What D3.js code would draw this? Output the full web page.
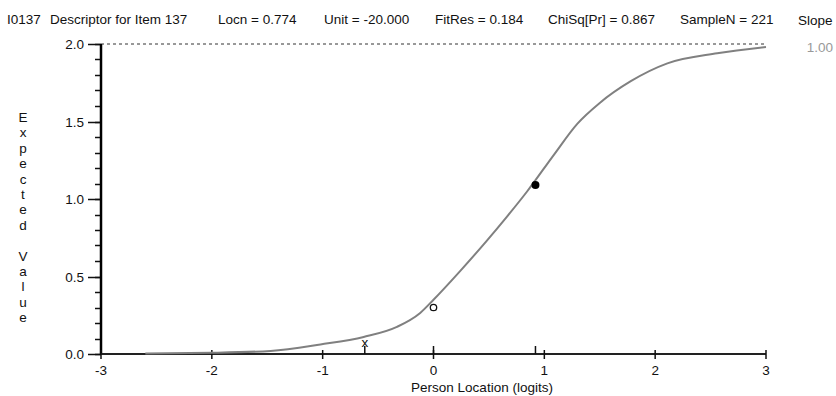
<!DOCTYPE html>
<html>
<head>
<meta charset="utf-8">
<script src="https://cdn.jsdelivr.net/npm/d3@7"></script>
<style>
  body { margin: 0; background: #fff; }
  text { font-family: "Liberation Sans", Arial, sans-serif; }
</style>
</head>
<body>
<div id="chart"></div>
<script>
// header fields
var headerLabels = ["I0137", "Descriptor for Item 137", "Locn = 0.774", "Unit = -20.000", "FitRes = 0.184", "ChiSq[Pr] = 0.867", "SampleN = 221"];
var headerX = [7, 50, 218, 324, 435, 548, 680];

// expected value curve
var curveX = [-2.6, -2.0, -1.47, -1.02, -0.63, -0.33, -0.12, 0, 0.24, 0.48, 0.665, 0.846, 1.086, 1.297, 1.5, 1.78, 2.11, 2.56, 3.0];
var curveY = [0.004, 0.008, 0.02, 0.062, 0.11, 0.175, 0.265, 0.35, 0.535, 0.73, 0.888, 1.05, 1.285, 1.485, 1.62, 1.76, 1.875, 1.94, 1.98];

// observed class interval means
var classX = [-0.62, 0, 0.92];
var classY = [0.07, 0.30, 1.09];
var classMark = ["x", "o", "dot"];

var xTicks = [-3, -2, -1, 0, 1, 2, 3];
var yTicks = [0, 0.5, 1.0, 1.5, 2.0];
var yLabel = "Expected Value";

var width = 836, height = 396;
var fs = 13.5;
var svg = d3.select("#chart").append("svg")
    .attr("width", width)
    .attr("height", height);

var x = d3.scaleLinear().domain([-3, 3]).range([101, 766]);
var y = d3.scaleLinear().domain([0, 2]).range([354, 44]);

// header line
svg.selectAll("text.head")
    .data(headerLabels)
    .enter().append("text")
    .attr("class", "head")
    .attr("x", function(d, i) { return headerX[i]; })
    .attr("y", 24)
    .attr("font-size", fs)
    .attr("fill", "#111")
    .text(function(d) { return d; });

svg.append("text").attr("x", 798).attr("y", 25).attr("font-size", fs).attr("fill", "#111").text("Slope");
svg.append("text").attr("x", 833).attr("y", 52).attr("font-size", fs).attr("fill", "#999")
    .attr("text-anchor", "end").text("1.00");

// dashed maximum line
svg.append("line")
    .attr("x1", x(-3)).attr("x2", x(3))
    .attr("y1", y(2)).attr("y2", y(2))
    .attr("stroke", "#333").attr("stroke-width", 1)
    .attr("stroke-dasharray", "3,3");

// y axis: minor ticks every 0.1
var yMinor = d3.range(0, 2.01, 0.1);
svg.selectAll("line.yminor")
    .data(yMinor)
    .enter().append("line")
    .attr("x1", 95).attr("x2", x(-3))
    .attr("y1", function(d) { return Math.round(y(d)) + 0.5; })
    .attr("y2", function(d) { return Math.round(y(d)) + 0.5; })
    .attr("stroke", "#111").attr("stroke-width", 1.5);

svg.selectAll("line.ymajor")
    .data(yTicks)
    .enter().append("line")
    .attr("x1", 88).attr("x2", x(-3))
    .attr("y1", function(d) { return Math.round(y(d)) + 0.5; })
    .attr("y2", function(d) { return Math.round(y(d)) + 0.5; })
    .attr("stroke", "#111").attr("stroke-width", 1.5);

svg.selectAll("text.ytick")
    .data(yTicks)
    .enter().append("text")
    .attr("x", 84)
    .attr("y", function(d) { return y(d) + 5; })
    .attr("text-anchor", "end")
    .attr("font-size", fs)
    .attr("fill", "#111")
    .text(function(d) { return d.toFixed(1); });

svg.append("line")
    .attr("x1", x(-3)).attr("x2", x(-3))
    .attr("y1", y(2)).attr("y2", y(0) + 1)
    .attr("stroke", "#000").attr("stroke-width", 2.5);

// vertical y label, one letter per row
svg.selectAll("text.ylab")
    .data(yLabel.split(""))
    .enter().append("text")
    .attr("x", 23)
    .attr("y", function(d, i) { return 122 + i * 15.4; })
    .attr("text-anchor", "middle")
    .attr("font-size", fs)
    .attr("fill", "#111")
    .text(function(d) { return d; });

// x axis
svg.append("line")
    .attr("x1", x(-3)).attr("x2", x(3))
    .attr("y1", y(0)).attr("y2", y(0))
    .attr("stroke", "#222").attr("stroke-width", 2);

svg.selectAll("line.xtick")
    .data(xTicks)
    .enter().append("line")
    .attr("x1", function(d) { return x(d); })
    .attr("x2", function(d) { return x(d); })
    .attr("y1", y(0) - 4).attr("y2", y(0) + 5)
    .attr("stroke", "#111").attr("stroke-width", 1.5);

svg.selectAll("text.xtick")
    .data(xTicks)
    .enter().append("text")
    .attr("x", function(d) { return x(d); })
    .attr("y", 375)
    .attr("text-anchor", "middle")
    .attr("font-size", fs)
    .attr("fill", "#111")
    .text(function(d) { return d; });

svg.append("text")
    .attr("x", 482)
    .attr("y", 392)
    .attr("text-anchor", "middle")
    .attr("font-size", fs)
    .attr("fill", "#111")
    .text("Person Location (logits)");

// class interval location ticks
svg.selectAll("line.ctick")
    .data(classX)
    .enter().append("line")
    .attr("x1", function(d) { return x(d); })
    .attr("x2", function(d) { return x(d); })
    .attr("y1", y(0) - 8).attr("y2", y(0))
    .attr("stroke", "#111").attr("stroke-width", 1.5);

// expected value curve
var pts = curveX.map(function(d, i) { return [d, curveY[i]]; });
svg.append("path")
    .datum(pts)
    .attr("d", d3.line()
        .x(function(d) { return x(d[0]); })
        .y(function(d) { return y(d[1]); })
        .curve(d3.curveMonotoneX))
    .attr("fill", "none")
    .attr("stroke", "#808080")
    .attr("stroke-width", 2);

// observed means
classX.forEach(function(cx, i) {
    var px = x(cx), py = y(classY[i]);
    if (classMark[i] === "dot") {
        svg.append("circle").attr("cx", px).attr("cy", py).attr("r", 4).attr("fill", "#000");
    } else if (classMark[i] === "o") {
        svg.append("circle").attr("cx", px).attr("cy", py).attr("r", 3.2)
            .attr("fill", "none").attr("stroke", "#111").attr("stroke-width", 1.3);
    } else {
        svg.append("text").attr("x", px).attr("y", py + 4).attr("text-anchor", "middle")
            .attr("font-size", fs).attr("fill", "#111").text("x");
    }
});
</script>
</body>
</html>
